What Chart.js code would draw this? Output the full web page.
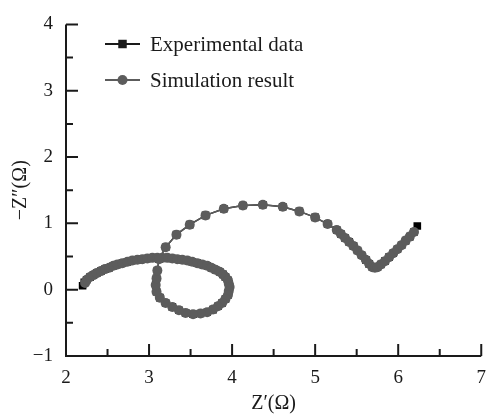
<!DOCTYPE html>
<html>
<head>
<meta charset="utf-8">
<script src="https://cdn.jsdelivr.net/npm/chart.js@4.4.0/dist/chart.umd.min.js"></script>
<style>
  html, body { margin: 0; padding: 0; background: #ffffff; }
  #wrap { width: 497px; height: 414px; }
</style>
</head>
<body>
<div id="wrap"><canvas id="nyquist-chart" width="497" height="414"></canvas></div>
<script>
// Experimental data: Z' (x) and -Z'' (y)
const expX = [2.20, 2.22, 2.25, 2.29, 2.33, 2.37, 2.42, 2.47, 2.52, 2.57, 2.62, 2.68, 2.74, 2.80, 2.86, 2.92, 2.98, 3.04,
  3.10, 3.16, 3.22, 3.28, 3.34, 3.40, 3.46, 3.52, 3.58, 3.64, 3.70, 3.75, 3.80, 3.85, 3.89, 3.92, 3.95, 3.96, 3.97,
  3.96, 3.95, 3.92, 3.88, 3.83, 3.77, 3.70, 3.62, 3.53, 3.44, 3.36, 3.28, 3.20, 3.13, 3.09, 3.08, 3.09, 3.10, 3.12,
  3.20, 3.33, 3.49, 3.68, 3.90, 4.13, 4.37, 4.61, 4.81, 5.00, 5.15, 5.26,
  5.31, 5.36, 5.41, 5.46, 5.51, 5.56, 5.61, 5.65, 5.69, 5.72, 5.75, 5.79, 5.84, 5.89, 5.94, 5.99, 6.04, 6.09, 6.14, 6.19, 6.23];
const expY = [0.06, 0.11, 0.15, 0.19, 0.22, 0.25, 0.28, 0.31, 0.33, 0.36, 0.38, 0.40, 0.42, 0.44, 0.45, 0.46, 0.47, 0.48,
  0.48, 0.48, 0.48, 0.47, 0.46, 0.45, 0.44, 0.42, 0.40, 0.38, 0.36, 0.33, 0.30, 0.27, 0.23, 0.19, 0.14, 0.09, 0.04,
  -0.02, -0.08, -0.14, -0.20, -0.25, -0.30, -0.34, -0.36, -0.37, -0.35, -0.31, -0.26, -0.20, -0.12, -0.03, 0.07, 0.17, 0.29, 0.46,
  0.64, 0.83, 0.98, 1.12, 1.22, 1.27, 1.28, 1.25, 1.18, 1.09, 0.99, 0.90,
  0.84, 0.78, 0.72, 0.66, 0.59, 0.52, 0.45, 0.39, 0.34, 0.33, 0.34, 0.38, 0.43, 0.49, 0.55, 0.61, 0.67, 0.74, 0.80, 0.87, 0.96];

// Simulation result
const simX = [2.23, 2.25, 2.29, 2.33, 2.37, 2.42, 2.47, 2.52, 2.57, 2.62, 2.68, 2.74, 2.80, 2.86, 2.92, 2.98, 3.04,
  3.10, 3.16, 3.22, 3.28, 3.34, 3.40, 3.46, 3.52, 3.58, 3.64, 3.70, 3.75, 3.80, 3.85, 3.89, 3.92, 3.95, 3.96, 3.97,
  3.96, 3.95, 3.92, 3.88, 3.83, 3.77, 3.70, 3.62, 3.53, 3.44, 3.36, 3.28, 3.20, 3.13, 3.09, 3.08, 3.09, 3.10, 3.12,
  3.20, 3.33, 3.49, 3.68, 3.90, 4.13, 4.37, 4.61, 4.81, 5.00, 5.15, 5.26,
  5.31, 5.36, 5.41, 5.46, 5.51, 5.56, 5.61, 5.65, 5.69, 5.72, 5.75, 5.79, 5.84, 5.89, 5.94, 5.99, 6.04, 6.09, 6.14, 6.19];
const simY = [0.10, 0.15, 0.19, 0.22, 0.25, 0.28, 0.31, 0.33, 0.36, 0.38, 0.40, 0.42, 0.44, 0.45, 0.46, 0.47, 0.48,
  0.48, 0.48, 0.48, 0.47, 0.46, 0.45, 0.44, 0.42, 0.40, 0.38, 0.36, 0.33, 0.30, 0.27, 0.23, 0.19, 0.14, 0.09, 0.04,
  -0.02, -0.08, -0.14, -0.20, -0.25, -0.30, -0.34, -0.36, -0.37, -0.35, -0.31, -0.26, -0.20, -0.12, -0.03, 0.07, 0.17, 0.29, 0.46,
  0.64, 0.83, 0.98, 1.12, 1.22, 1.27, 1.28, 1.25, 1.18, 1.09, 0.99, 0.90,
  0.84, 0.78, 0.72, 0.66, 0.59, 0.52, 0.45, 0.39, 0.34, 0.33, 0.34, 0.38, 0.43, 0.49, 0.55, 0.61, 0.67, 0.74, 0.80, 0.87];

const seriesNames = ['Experimental data', 'Simulation result'];

// ejes
const xTickLabels = ['2', '3', '4', '5', '6', '7'];
const yTickLabels = ['\u22121', '0', '1', '2', '3', '4'];
const xMajorTicks = [2, 3, 4, 5, 6, 7];
const xMinorTicks = [2.5, 3.5, 4.5, 5.5, 6.5];
const yMajorTicks = [-1, 0, 1, 2, 3, 4];
const yMinorTicks = [-0.5, 0.5, 1.5, 2.5, 3.5];

const serif = '"Liberation Serif", "Times New Roman", serif';
const ink = '#1a1a1a';
const simGray = '#5c5c5c';

const toPoints = (xs, ys) => xs.map((x, i) => ({ x: x, y: ys[i] }));

// ejes con marcas hacia dentro + leyenda dentro del area
const axesPlugin = {
  id: 'axesPlugin',
  afterDraw(chart) {
    const { ctx, chartArea, scales } = chart;
    const xs = scales.x;
    const ys = scales.y;
    ctx.save();
    ctx.strokeStyle = ink;
    ctx.lineWidth = 2;
    ctx.beginPath();
    ctx.moveTo(chartArea.left, chartArea.top);
    ctx.lineTo(chartArea.left, chartArea.bottom);
    ctx.lineTo(chartArea.right, chartArea.bottom);
    ctx.stroke();

    ctx.lineWidth = 2;
    ctx.beginPath();
    xMajorTicks.forEach((v) => {
      const px = xs.getPixelForValue(v);
      ctx.moveTo(px, chartArea.bottom);
      ctx.lineTo(px, chartArea.bottom - 12);
    });
    xMinorTicks.forEach((v) => {
      const px = xs.getPixelForValue(v);
      ctx.moveTo(px, chartArea.bottom);
      ctx.lineTo(px, chartArea.bottom - 7);
    });
    yMajorTicks.forEach((v) => {
      const py = ys.getPixelForValue(v);
      ctx.moveTo(chartArea.left, py);
      ctx.lineTo(chartArea.left + 12, py);
    });
    yMinorTicks.forEach((v) => {
      const py = ys.getPixelForValue(v);
      ctx.moveTo(chartArea.left, py);
      ctx.lineTo(chartArea.left + 7, py);
    });
    ctx.stroke();

    // leyenda
    const lx = 105;
    const rows = [
      { y: 44, color: ink, style: 'rect' },
      { y: 80, color: simGray, style: 'circle' },
    ];
    rows.forEach((r, i) => {
      ctx.strokeStyle = r.color;
      ctx.fillStyle = r.color;
      ctx.lineWidth = 2;
      ctx.beginPath();
      ctx.moveTo(lx, r.y);
      ctx.lineTo(lx + 35, r.y);
      ctx.stroke();
      Chart.helpers.drawPoint(ctx, { pointStyle: r.style, radius: r.style === 'rect' ? 6 : 5, borderWidth: 0 }, lx + 17.5, r.y);
      ctx.fillStyle = ink;
      ctx.font = '21px ' + serif;
      ctx.textAlign = 'left';
      ctx.textBaseline = 'alphabetic';
      ctx.fillText(seriesNames[i], 150, r.y + 6.5);
    });
    ctx.restore();
  },
};

new Chart(document.getElementById('nyquist-chart'), {
  type: 'scatter',
  data: {
    datasets: [
      {
        label: seriesNames[0],
        data: toPoints(expX, expY),
        order: 1, // debajo de la simulación
        showLine: true,
        borderColor: ink,
        borderWidth: 1.5,
        backgroundColor: '#000000',
        pointStyle: 'rect',
        pointRadius: 5.4,
        pointBorderWidth: 0,
      },
      {
        label: seriesNames[1],
        data: toPoints(simX, simY),
        order: 0,
        showLine: true,
        borderColor: simGray,
        borderWidth: 1.5,
        backgroundColor: simGray,
        pointStyle: 'circle',
        pointRadius: 5,
        pointBorderWidth: 0,
      },
    ],
  },
  options: {
    responsive: false,
    animation: false,
    layout: { padding: { top: 22, right: 9, left: 0, bottom: 0 } },
    plugins: {
      legend: { display: false },
      tooltip: { enabled: false },
      title: { display: false },
    },
    scales: {
      x: {
        type: 'linear',
        min: 2,
        max: 7,
        afterFit: (scale) => { scale.height = 58; },
        grid: { display: false, drawTicks: false },
        border: { display: false },
        ticks: {
          stepSize: 1,
          padding: 11,
          color: ink,
          font: { family: serif, size: 19 },
          callback: (v) => xTickLabels[xMajorTicks.indexOf(v)] ?? '',
        },
        title: {
          display: true,
          text: 'Z\u2032(\u03A9)',
          color: ink,
          font: { family: serif, size: 20, lineHeight: 1 },
          padding: { top: 0, bottom: 0 },
        },
      },
      y: {
        type: 'linear',
        min: -1,
        max: 4,
        afterFit: (scale) => { scale.width = 66; },
        grid: { display: false, drawTicks: false },
        border: { display: false },
        ticks: {
          stepSize: 1,
          padding: 13,
          color: ink,
          font: { family: serif, size: 19 },
          callback: (v) => yTickLabels[yMajorTicks.indexOf(v)] ?? '',
        },
        title: {
          display: true,
          text: '\u2212Z\u2033(\u03A9)',
          color: ink,
          font: { family: serif, size: 20, lineHeight: 1 },
          padding: { top: 11, bottom: 0 },
        },
      },
    },
  },
  plugins: [axesPlugin],
});
</script>
</body>
</html>
